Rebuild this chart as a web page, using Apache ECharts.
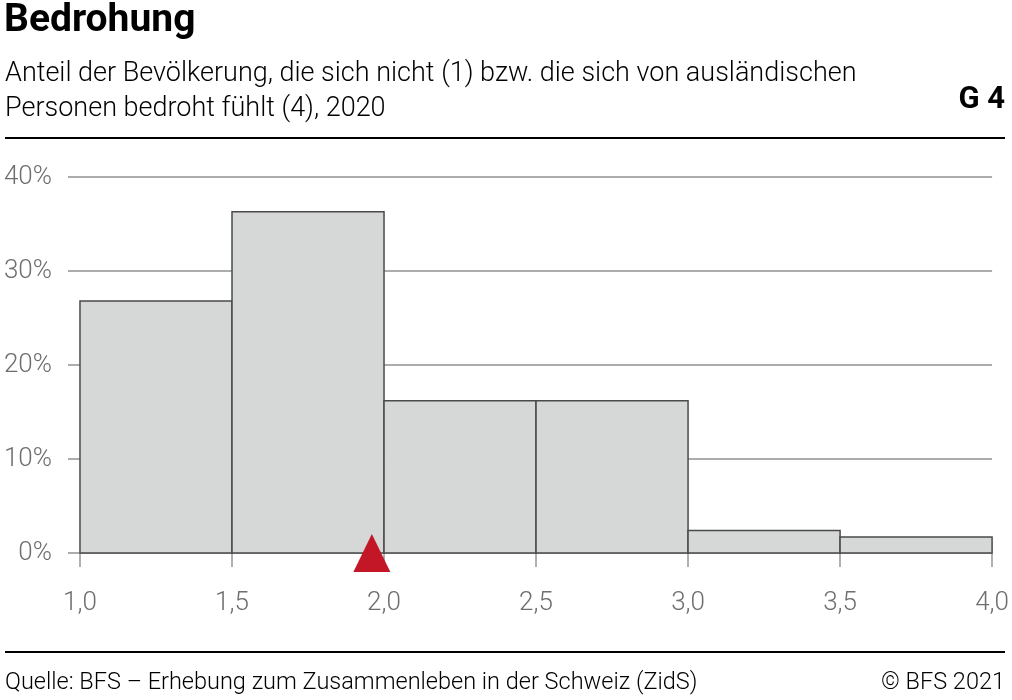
<!DOCTYPE html>
<html><head><meta charset="utf-8">
<script src="https://cdn.jsdelivr.net/npm/echarts@6/dist/echarts.min.js"></script>
<style>html,body{margin:0;padding:0;background:#fff}#c{width:1012px;height:700px}</style>
</head><body><div id="c"></div>
<script>
const binStart = [1.0, 1.5, 2.0, 2.5, 3.0, 3.5];
const binEnd   = [1.5, 2.0, 2.5, 3.0, 3.5, 4.0];
const shares   = [26.8, 36.3, 16.2, 16.2, 2.4, 1.7];
const meanValue = 1.96;
const xTicks = [1.0, 1.5, 2.0, 2.5, 3.0, 3.5, 4.0];
const yTicks = [0, 10, 20, 30, 40];

const chart = echarts.init(document.getElementById('c'), null, {renderer:'canvas'});
const FONT = 'Roboto';
const barData = binStart.map((s,i)=>[s, binEnd[i], shares[i]]);

chart.setOption({
  animation:false,
  textStyle:{fontFamily:FONT},
  grid:{left:68, right:19, top:177, bottom:147, containLabel:false},
  xAxis:{
    type:'value', min: 1 - 12*3/913, max: 4,
    splitLine:{show:false},
    axisLine:{show:false},
    offset:3,
    axisTick:{show:true, customValues:xTicks, length:14, lineStyle:{color:'#b0b0b0', width:2}},
    axisLabel:{customValues:xTicks, formatter:v=>v.toFixed(1).replace('.',','), color:'#6e6e6e', fontSize:26, fontWeight:300, fontFamily:FONT, margin:34}
  },
  yAxis:{
    type:'value', min:0, max:40, interval:10,
    axisLine:{show:false}, axisTick:{show:false},
    splitLine:{lineStyle:{color:'#acacac', width:2}},
    axisLabel:{formatter:'{value}%', color:'#6e6e6e', fontSize:26, fontWeight:300, fontFamily:FONT, margin:16}
  },
  series:[
    {
      type:'custom',
      data:barData,
      encode:{x:[0,1], y:2},
      renderItem:(params, api)=>{
        const p0 = api.coord([api.value(0), api.value(2)]);
        const p1 = api.coord([api.value(1), 0]);
        return {type:'rect', shape:{x:p0[0], y:p0[1], width:p1[0]-p0[0], height:p1[1]-p0[1]},
          style:{fill:'#d6d8d7', stroke:'#4a4a4a', lineWidth:1.5}};
      },
      z:2
    },
    {
      type:'scatter',
      data:[[meanValue, 0]],
      symbol:'triangle', symbolSize:[37,38],
      itemStyle:{color:'#c31626', opacity:1},
      z:5
    }
  ],
  graphic:[
    {type:'text', left:4, top:2, style:{text:'Bedrohung', font:'bold 39px Roboto', fill:'#000'}},
    {type:'text', left:5, top:57, style:{text:'Anteil der Bevölkerung, die sich nicht (1) bzw. die sich von ausländischen\nPersonen bedroht fühlt (4), 2020', font:'300 27px Roboto', lineHeight:35, fill:'#000'}},
    {type:'text', right:7, top:85, style:{text:'G 4', font:'bold 31px Roboto', fill:'#000'}},
    {type:'rect', shape:{x:5, y:137, width:1000, height:2}, style:{fill:'#000'}},
    {type:'rect', shape:{x:5, y:651, width:1000, height:2}, style:{fill:'#000'}},
    {type:'text', left:5, top:671, style:{text:'Quelle: BFS – Erhebung zum Zusammenleben in der Schweiz (ZidS)', font:'300 23.5px Roboto', fill:'#000'}},
    {type:'text', right:7, top:671, style:{text:'© BFS 2021', font:'300 23.5px Roboto', fill:'#000'}}
  ]
});
</script></body></html>
